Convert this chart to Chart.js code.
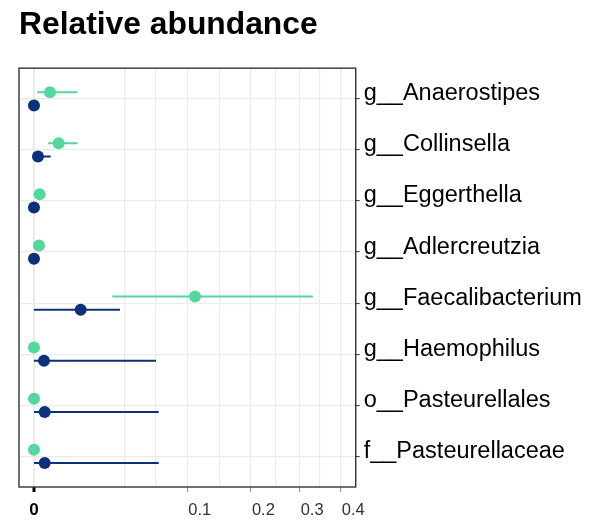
<!DOCTYPE html>
<html>
<head>
<meta charset="utf-8">
<script src="https://cdn.jsdelivr.net/npm/chart.js@4.4.1/dist/chart.umd.min.js"></script>
<style>
  html, body { margin: 0; padding: 0; background: #fff; }
  #wrap { width: 600px; height: 521px; }
</style>
</head>
<body>
<div id="wrap"><canvas id="c" width="600" height="521"></canvas></div>
<script>
// ---- data ----
const categories = ['g__Anaerostipes', 'g__Collinsella', 'g__Eggerthella', 'g__Adlercreutzia',
  'g__Faecalibacterium', 'g__Haemophilus', 'o__Pasteurellales', 'f__Pasteurellaceae'];

const greenMean = [0.00109, 0.00259, 0.000138, 0.000106, 0.1102, 0, 0, 0];
const greenLow  = [0.000046, 0.00087, 0.00002, 0.00001, 0.0261, 0, 0, 0];
const greenHigh = [0.00812, 0.00812, 0.0004, 0.0003, 0.3302, 0.00003, 0.00003, 0.00003];

const blueMean = [0, 0.000068, 0, 0, 0.00927, 0.000425, 0.000487, 0.000487];
const blueLow  = [0, 0, 0, 0, 0, 0, 0, 0];
const blueHigh = [0.00005, 0.00119, 0.00005, 0.00005, 0.03144, 0.0633, 0.0661, 0.0661];

const xTickValues = [0, 0.1, 0.2, 0.3, 0.4];
const xTickLabels = ['0', '0.1', '0.2', '0.3', '0.4'];
const xGridValues = [0, 0.0347, 0.0626, 0.1, 0.146, 0.2, 0.2484, 0.3, 0.3478, 0.4];

// ---- styling ----
const GREEN = '#55D69E';
const BLUE = '#0C307A';
const FONT = '"Liberation Sans", Arial, Helvetica, sans-serif';
const DODGE = 0.13;

const tr = v => Math.sqrt(v); // sqrt axis transform

function pointsOf(means, off) {
  return means.map((m, i) => ({ x: tr(m), y: i + 1 + off }));
}
function barsOf(lows, highs, off) {
  const out = [];
  lows.forEach((lo, i) => {
    out.push({ x: tr(lo), y: i + 1 + off });
    out.push({ x: tr(highs[i]), y: i + 1 + off });
    out.push({ x: tr(highs[i]), y: null });
  });
  return out;
}

const panelPlugin = {
  id: 'panel',
  afterDraw(chart) {
    const { ctx, chartArea: a, scales } = chart;
    ctx.save();
    ctx.strokeStyle = '#333333';
    ctx.lineWidth = 1.4;
    ctx.strokeRect(a.left, a.top, a.right - a.left, a.bottom - a.top);
    // x tick labels (real text)
    const xs = scales.x;
    xTickValues.forEach((v, i) => {
      const px = xs.getPixelForValue(tr(v));
      ctx.textBaseline = 'middle';
      if (v === 0) {
        ctx.font = 'bold 17px ' + FONT;
        ctx.fillStyle = '#000';
        ctx.textAlign = 'center';
      } else {
        ctx.font = '16.5px ' + FONT;
        ctx.fillStyle = '#333';
        ctx.textAlign = 'left';
      }
      ctx.fillText(xTickLabels[i], px + (v === 0 ? 0 : 1), a.bottom + 23);
    });
    ctx.restore();
  }
};

new Chart(document.getElementById('c'), {
  type: 'scatter',
  data: {
    datasets: [
      { data: pointsOf(greenMean, -DODGE), backgroundColor: GREEN, pointRadius: 6, borderWidth: 0, order: 1 },
      { data: pointsOf(blueMean, DODGE), backgroundColor: BLUE, pointRadius: 6, borderWidth: 0, order: 1 },
      { data: barsOf(greenLow, greenHigh, -DODGE), showLine: true, borderColor: GREEN, borderWidth: 2,
        pointRadius: 0, spanGaps: false, order: 2 },
      { data: barsOf(blueLow, blueHigh, DODGE), showLine: true, borderColor: BLUE, borderWidth: 2,
        pointRadius: 0, spanGaps: false, order: 2 }
    ]
  },
  options: {
    responsive: false,
    devicePixelRatio: 1,
    animation: false,
    layout: { padding: { left: 19, right: 0, top: 0, bottom: 0 } },
    plugins: {
      legend: { display: false },
      tooltip: { enabled: false },
      title: {
        display: true,
        text: 'Relative abundance',
        align: 'start',
        color: '#000',
        font: { family: FONT, size: 31.8, weight: 'bold' },
        padding: { top: 6, bottom: 24 }
      }
    },
    scales: {
      x: {
        type: 'linear',
        position: 'bottom',
        min: -0.0309,
        max: 0.6633,
        afterBuildTicks: s => { s.ticks = xGridValues.map(v => ({ value: tr(v) })); },
        afterFit: s => { s.height = 34; },
        ticks: { display: false },
        border: { display: false },
        grid: {
          color: '#EBEBEB',
          lineWidth: c => (c.tick && c.tick.value === 0 ? 2 : 1.2),
          drawTicks: true,
          tickLength: 5,
          tickColor: c => {
            const v = c.tick ? c.tick.value : -1;
            if (v === 0) return '#000';
            return xTickValues.some(t => Math.abs(tr(t) - v) < 1e-9) ? '#888' : 'rgba(0,0,0,0)';
          },
          tickWidth: c => (c.tick && c.tick.value === 0 ? 3 : 1)
        }
      },
      y: {
        type: 'linear',
        position: 'right',
        reverse: true,
        min: 0.4,
        max: 8.6,
        afterBuildTicks: s => { s.ticks = categories.map((c, i) => ({ value: i + 1 })); },
        afterFit: s => { s.width = 244.3; },
        ticks: {
          callback: (v, i) => categories[i],
          color: '#000',
          font: { family: FONT, size: 23.5 },
          padding: 4,
          labelOffset: -5,
          autoSkip: false
        },
        border: { display: false },
        grid: {
          color: '#EBEBEB',
          lineWidth: 1.2,
          drawTicks: true,
          tickLength: 4,
          tickColor: '#333',
          tickWidth: 1
        }
      }
    }
  },
  plugins: [panelPlugin]
});
</script>
</body>
</html>
